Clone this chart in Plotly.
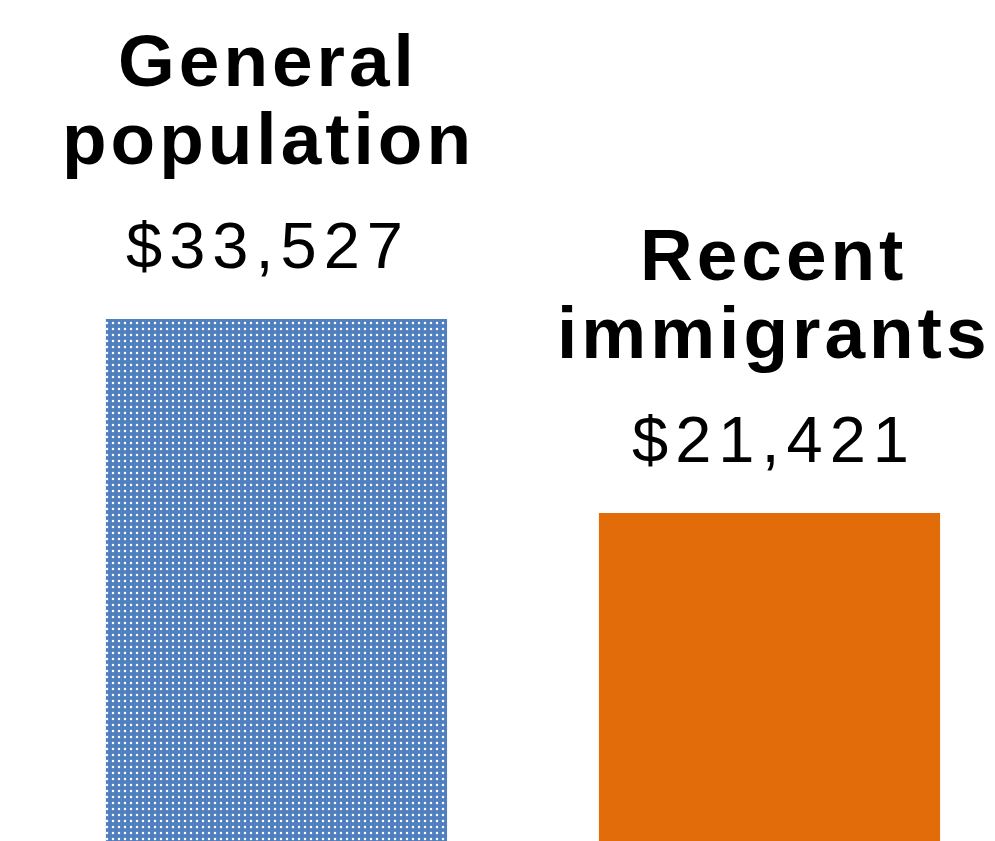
import plotly.graph_objects as go

categories = ["General population", "Recent immigrants"]
label_lines = [["General", "population"], ["Recent", "immigrants"]]
values = [33527, 21421]
colors = ["#4F7FBE", "#E36C0A"]

xpos = [0, 1]

fig = go.Figure()
fig.add_trace(go.Bar(
    x=[xpos[0]], y=[values[0]], width=0.692,
    marker=dict(color=colors[0], line=dict(width=0),
                pattern=dict(shape=".", fgcolor="white", bgcolor=colors[0],
                             size=6, solidity=0.14, fillmode="replace")),
    hoverinfo="skip", showlegend=False,
))
fig.add_trace(go.Bar(
    x=[xpos[1]], y=[values[1]], width=0.692,
    marker=dict(color=colors[1], line=dict(width=0)),
    hoverinfo="skip", showlegend=False,
))

label_font = dict(family="Liberation Sans, Arial, sans-serif", size=73, color="black", weight="bold")
value_font = dict(family="Liberation Sans, Arial, sans-serif", size=65, color="black")


def spaced(t, px):
    return f'<span style="letter-spacing:{px}px">{t}</span>'


xshifts = [-8, 4]
for i, (x, v) in enumerate(zip(xpos, values)):
    fig.add_annotation(x=x, y=v, text=spaced(label_lines[i][0], 4), showarrow=False,
                       xanchor="center", yanchor="bottom", yshift=216,
                       xshift=xshifts[i], font=label_font)
    fig.add_annotation(x=x, y=v, text=spaced(label_lines[i][1], 4), showarrow=False,
                       xanchor="center", yanchor="bottom", yshift=138,
                       xshift=xshifts[i], font=label_font)
    fig.add_annotation(x=x, y=v, text=spaced(f"${v:,}", 7), showarrow=False,
                       xanchor="center", yanchor="bottom", yshift=35,
                       xshift=xshifts[i], font=value_font)

fig.update_layout(
    width=987, height=833,
    margin=dict(l=0, r=0, t=0, b=0),
    paper_bgcolor="white", plot_bgcolor="white",
    xaxis=dict(range=[-0.5446, 1.4574], visible=False, fixedrange=True),
    yaxis=dict(range=[953, 52934], visible=False, fixedrange=True),
    showlegend=False,
)

fig.write_html("out.html", config={"displayModeBar": False})
